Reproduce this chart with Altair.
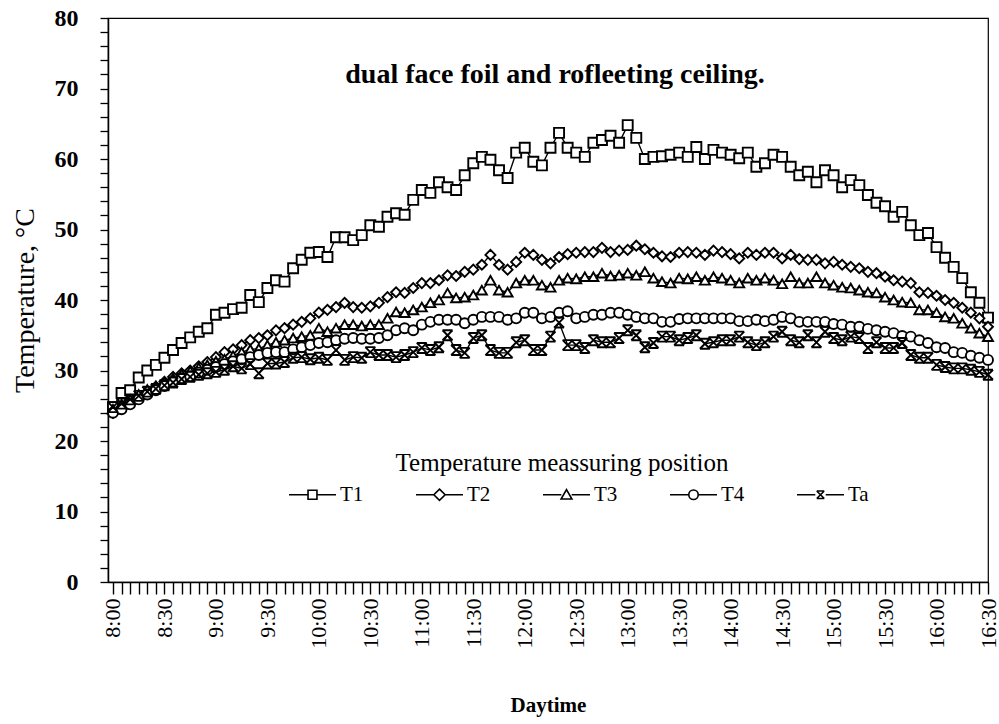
import json
import altair as alt
import pandas as pd

# x positions: readings every 5 minutes from 8:00 (480 min) to 16:30 (990 min)
minutes = list(range(480, 991, 5))
tick_labels = ["8:00", "8:30", "9:00", "9:30", "10:00", "10:30", "11:00", "11:30",
               "12:00", "12:30", "13:00", "13:30", "14:00", "14:30", "15:00", "15:30",
               "16:00", "16:30"]
series_names = ["T1", "T2", "T3", "T4", "Ta"]

T1 = [24.8, 26.8, 27.2, 29.0, 30.0, 30.8, 31.8, 32.9, 33.9, 34.7,
      35.5, 36.0, 37.9, 38.2, 38.7, 38.9, 40.7, 39.7, 41.7, 42.8,
      42.6, 44.5, 45.7, 46.7, 46.8, 46.1, 48.9, 48.9, 48.5, 49.2,
      50.6, 50.4, 51.8, 52.3, 52.1, 54.2, 55.6, 55.2, 56.7, 56.0,
      55.6, 57.7, 59.4, 60.3, 59.9, 58.4, 57.3, 60.9, 61.6, 59.6,
      59.1, 61.6, 63.7, 61.6, 60.9, 60.3, 62.3, 62.7, 63.3, 62.3,
      64.8, 63.0, 60.0, 60.3, 60.4, 60.6, 60.9, 60.3, 61.7, 60.0,
      61.3, 60.9, 60.6, 60.1, 60.9, 58.9, 59.4, 60.6, 60.3, 58.9,
      57.7, 58.2, 56.7, 58.4, 57.7, 56.0, 57.0, 56.3, 54.9, 53.8,
      53.3, 51.8, 52.5, 50.6, 49.2, 49.5, 47.5, 46.0, 44.7, 43.1,
      41.1, 39.6, 37.5]
T2 = [24.0, 24.8, 25.5, 26.3, 27.0, 27.7, 28.4, 29.1, 29.6, 30.0,
      30.6, 31.2, 31.9, 32.6, 33.0, 33.6, 34.3, 34.6, 35.0, 35.7,
      36.0, 36.5, 36.9, 37.4, 38.2, 38.6, 39.0, 39.6, 39.0, 38.9,
      39.1, 39.6, 40.4, 41.1, 41.0, 41.7, 42.4, 42.4, 42.8, 43.5,
      43.4, 44.0, 44.3, 45.0, 46.4, 45.0, 44.3, 45.4, 46.7, 46.4,
      45.7, 45.2, 46.1, 46.5, 46.7, 46.8, 46.8, 47.4, 46.8, 47.0,
      47.1, 47.7, 47.2, 46.7, 46.2, 46.1, 46.7, 46.8, 46.7, 46.4,
      47.0, 46.8, 46.5, 45.9, 46.7, 46.4, 46.7, 46.7, 45.9, 46.4,
      45.8, 45.7, 45.7, 45.2, 45.4, 45.0, 44.7, 44.5, 44.0, 43.8,
      43.3, 42.8, 42.6, 42.4, 41.1, 41.0, 40.6, 40.0, 39.6, 38.9,
      38.2, 37.4, 36.2]
T3 = [24.5, 25.2, 25.9, 26.6, 27.3, 27.8, 28.4, 28.9, 29.5, 29.9,
      30.4, 30.8, 31.3, 31.6, 32.1, 32.6, 33.0, 33.1, 33.6, 34.0,
      34.3, 34.6, 34.8, 35.0, 36.0, 35.5, 36.0, 36.5, 36.5, 36.3,
      36.5, 36.5, 37.4, 38.3, 38.2, 38.6, 39.0, 39.6, 40.0, 41.0,
      40.3, 40.4, 40.7, 41.4, 42.8, 41.4, 41.1, 42.4, 42.8, 42.8,
      42.1, 41.8, 42.8, 43.1, 43.0, 43.3, 43.3, 43.8, 43.4, 43.5,
      43.8, 43.5, 44.0, 43.1, 42.6, 42.4, 43.1, 43.0, 43.3, 42.8,
      43.3, 43.1, 42.8, 42.4, 43.1, 42.8, 43.1, 42.8, 42.3, 43.3,
      42.4, 42.4, 43.3, 42.4, 42.1, 41.8, 41.7, 41.4, 41.1, 41.0,
      40.4, 40.0, 39.7, 39.6, 38.6, 38.6, 38.2, 37.6, 37.4, 36.7,
      36.0, 35.3, 34.8]
T4 = [24.0, 24.5, 25.2, 25.9, 26.6, 27.2, 27.8, 28.4, 28.9, 29.2,
      29.7, 30.1, 30.5, 30.9, 31.3, 31.6, 31.9, 32.2, 32.5, 32.6,
      32.6, 33.0, 33.3, 33.6, 33.9, 34.0, 34.3, 34.5, 34.6, 34.5,
      34.5, 34.6, 35.0, 35.7, 36.0, 35.7, 36.5, 36.9, 37.2, 37.2,
      37.2, 36.7, 37.2, 37.6, 37.6, 37.6, 37.2, 37.4, 38.2, 38.2,
      37.4, 37.6, 38.2, 38.4, 37.4, 37.6, 37.9, 37.9, 38.2, 38.2,
      37.9, 37.6, 37.4, 37.4, 36.9, 36.9, 37.3, 37.4, 37.4, 37.4,
      37.4, 37.4, 37.4, 37.0, 37.0, 37.2, 37.0, 37.2, 37.6, 37.4,
      36.9, 36.9, 36.9, 36.9, 36.6, 36.5, 36.2, 36.2, 35.9, 35.7,
      35.5, 35.3, 34.9, 34.8, 34.3, 33.9, 33.3, 33.2, 32.6, 32.5,
      32.1, 31.8, 31.5]
Ta = [24.8, 25.3, 25.9, 26.4, 27.0, 27.4, 27.9, 28.3, 28.8, 29.1,
      29.4, 29.6, 29.8, 30.1, 30.6, 30.3, 30.9, 29.6, 31.0, 31.0,
      31.2, 31.8, 31.9, 31.6, 31.8, 31.5, 32.9, 31.5, 31.9, 31.8,
      32.6, 32.2, 32.2, 31.9, 32.2, 32.6, 33.2, 32.9, 33.3, 35.0,
      32.9, 32.5, 34.6, 35.0, 32.9, 32.5, 32.5, 34.0, 34.3, 32.9,
      32.9, 34.8, 36.8, 33.6, 33.6, 33.2, 34.3, 34.0, 34.0, 34.6,
      35.7, 35.0, 33.3, 33.9, 34.8, 34.8, 34.3, 34.6, 35.0, 33.8,
      34.0, 34.3, 34.3, 34.8, 34.0, 33.6, 34.0, 34.8, 35.5, 34.3,
      34.0, 35.0, 34.0, 35.5, 34.6, 34.3, 34.8, 34.6, 33.2, 34.0,
      33.2, 33.2, 33.9, 32.2, 31.8, 31.8, 30.8, 30.5, 30.3, 30.3,
      30.1, 29.8, 29.4]

title_text = "dual face foil and rofleeting ceiling."
legend_title = "Temperature meassuring position"

rows = []
for name, vals in zip(series_names, [T1, T2, T3, T4, Ta]):
    for m, v in zip(minutes, vals):
        rows.append({"minute": m, "series": name, "temp": v})
df = pd.DataFrame(rows)

FONT = "Liberation Serif"

x_label_expr = ("datum.value % 30 == 0 ? " + json.dumps(tick_labels) +
                "[round((datum.value - 480) / 30)] : ''")

x_enc = alt.X(
    "minute:Q",
    scale=alt.Scale(domain=[477.1, 990], nice=False, zero=False),
    axis=alt.Axis(
        values=minutes, tickCount=500, labelExpr=x_label_expr, labelAngle=-90,
        tickSize=12, tickWidth=1.4, tickColor="black",
        labelPadding=4, labelFont=FONT, labelFontSize=22, labelColor="black",
        labelOverlap=False, labelFlush=False, labelBound=False,
        domainColor="black", domainWidth=1.5, grid=False,
        title="Daytime", titleFont=FONT, titleFontSize=21, titleFontWeight="bold",
        titleColor="black", titlePadding=46,
    ),
)
y_enc = alt.Y(
    "temp:Q",
    scale=alt.Scale(domain=[0, 80], nice=False, zero=True),
    axis=alt.Axis(
        values=list(range(0, 81, 2)), tickCount=200,
        labelExpr="datum.value % 10 == 0 ? datum.value : ''",
        tickSize=8, tickWidth=1.3, tickColor="black",
        labelPadding=22, labelFont=FONT, labelFontSize=24, labelFontWeight="bold",
        labelColor="black", labelOverlap=False,
        domainColor="black", domainWidth=1.5, grid=False,
        title="Temperature, °C", titleFont=FONT, titleFontSize=28,
        titleFontWeight="normal", titleColor="black", titlePadding=15,
    ),
)

base = alt.Chart(df)

lines = base.mark_line(color="black", strokeWidth=1.4).encode(
    x=x_enc, y=y_enc, detail="series:N"
)

marker_paths = ["square", "diamond", "triangle-up", "circle",
                "M-1,-1H1M-1,1H1M-1,-1L1,1M1,-1L-1,1"]
points = base.mark_point(fill="white", stroke="black", strokeWidth=1.9,
                         opacity=1, size=100).encode(
    x="minute:Q", y="temp:Q",
    shape=alt.Shape("series:N", scale=alt.Scale(domain=series_names, range=marker_paths),
                    legend=None),
)

seg = "M-1,0H-0.22M0.22,0H1"
legend_paths = [
    seg + "M-0.19,-0.19H0.19V0.19H-0.19Z",
    seg + "M0,-0.24L0.24,0L0,0.24L-0.24,0Z",
    seg + "M0,-0.22L0.23,0.18H-0.23Z",
    seg + "M-0.2,0A0.2,0.2,0,1,1,0.2,0A0.2,0.2,0,1,1,-0.2,0Z",
    seg + "M-0.16,-0.16H0.16M-0.16,0.16H0.16M-0.16,-0.16L0.16,0.16M0.16,-0.16L-0.16,0.16",
]
legend_layer = base.mark_point(opacity=0, size=10).encode(
    x="minute:Q", y="temp:Q",
    shape=alt.Shape(
        "series:N",
        scale=alt.Scale(domain=series_names, range=legend_paths),
        legend=alt.Legend(
            title=None, orient="none", legendX=180, legendY=452,
            direction="horizontal", symbolSize=2209, symbolStrokeWidth=1.6,
            symbolStrokeColor="black", symbolFillColor="white", symbolOpacity=1,
            labelFont=FONT, labelFontSize=21, labelColor="black", labelOffset=3,
            columnPadding=48, gridAlign="all", padding=0,
        ),
    ),
)

text_df = pd.DataFrame({"label": [title_text]})
title_layer = alt.Chart(text_df).mark_text(
    font=FONT, fontSize=28, fontWeight="bold", color="black", align="center",
    baseline="middle",
).encode(x=alt.value(447), y=alt.value(57), text="label:N")

legend_title_df = pd.DataFrame({"label": [legend_title]})
legend_title_layer = alt.Chart(legend_title_df).mark_text(
    font=FONT, fontSize=25, fontWeight="normal", color="black", align="center",
    baseline="middle",
).encode(x=alt.value(454), y=alt.value(445), text="label:N")

chart = (
    alt.layer(lines, points, legend_layer, title_layer, legend_title_layer)
    .resolve_scale(shape="independent")
    .properties(
        width=880, height=564,
        autosize=alt.AutoSizeParams(type="none"),
        padding={"left": 108, "top": 18, "right": 11, "bottom": 142},
        background="white",
    )
    .configure_view(stroke="black", strokeWidth=1.2)
)

chart.save("out.html", embed_options={"renderer": "svg", "actions": False})
